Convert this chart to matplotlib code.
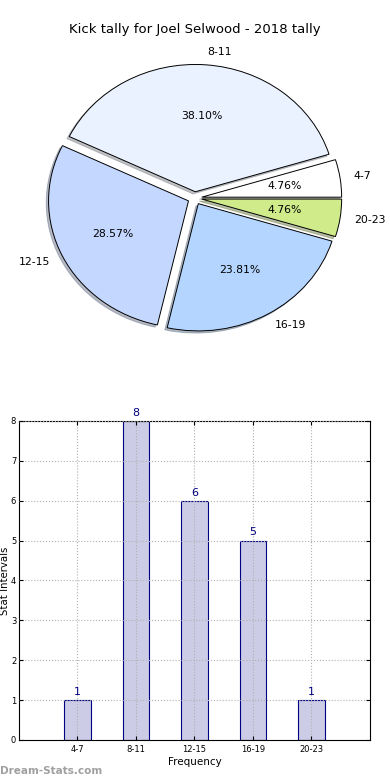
import matplotlib
matplotlib.use('Agg')
import matplotlib.pyplot as plt

# tally data
intervals = ['4-7', '8-11', '12-15', '16-19', '20-23']
counts = [1, 8, 6, 5, 1]
pie_colours = ['#ffffff', '#eaf1ff', '#c4d7ff', '#b4d5ff', '#cfeb8a']
explode = [0.05, 0.05, 0.05, 0.05, 0.05]

fig = plt.figure(figsize=(3.9, 7.8), dpi=100)

# pie chart
ax1 = fig.add_axes([0.051, 0.542, 0.897, 0.408])
wedges, texts, autotexts = ax1.pie(counts, labels=intervals, colors=pie_colours,
                                   explode=explode, autopct='%1.2f%%',
                                   shadow={'ox': -0.012, 'oy': -0.012, 'shade': 0.45},
                                   startangle=0, counterclock=True,
                                   wedgeprops={'edgecolor': 'black', 'linewidth': 0.7},
                                   textprops={'fontsize': 7.8})
ax1.set_aspect('auto')
ax1.set_xlim(-1.25, 1.25)
ax1.set_ylim(-1.25, 1.25)
fig.text(0.5, 1 - 30 / 780, 'Kick tally for Joel Selwood - 2018 tally',
         ha='center', va='center', fontsize=9.5)

# bar chart
ax2 = fig.add_axes([0.0487, 0.0513, 0.9, 0.409])
pos = list(range(len(intervals)))
ax2.bar(pos, counts, width=0.45, color='#ccccE6', edgecolor='#000080', linewidth=0.8)
for p, c in zip(pos, counts):
    ax2.text(p, c + 0.08, str(c), ha='center', va='bottom', color='#000080', fontsize=8)
ax2.set_xlim(-1, 5)
ax2.set_ylim(0, 8)
ax2.set_xticks(pos)
ax2.set_xticklabels(intervals)
ax2.set_yticks(range(0, 9))
ax2.tick_params(labelsize=6, direction='in', right=True, top=True, length=3)
ax2.tick_params(axis='y', pad=2)
ax2.grid(True, linestyle=':', color='#b0b0b0', linewidth=0.8)
ax2.set_axisbelow(False)
ax2.set_xlabel('Frequency', fontsize=7.5, labelpad=2)
ax2.set_ylabel('Stat Intervals', fontsize=7.3)
ax2.yaxis.set_label_coords(-0.027, 0.5)

fig.text(0.0, 1 - 771 / 780, 'Dream-Stats.com', ha='left', va='center',
         fontsize=7.5, color='#a0a0a0', fontweight='bold')

fig.savefig('out.png', dpi=100)
